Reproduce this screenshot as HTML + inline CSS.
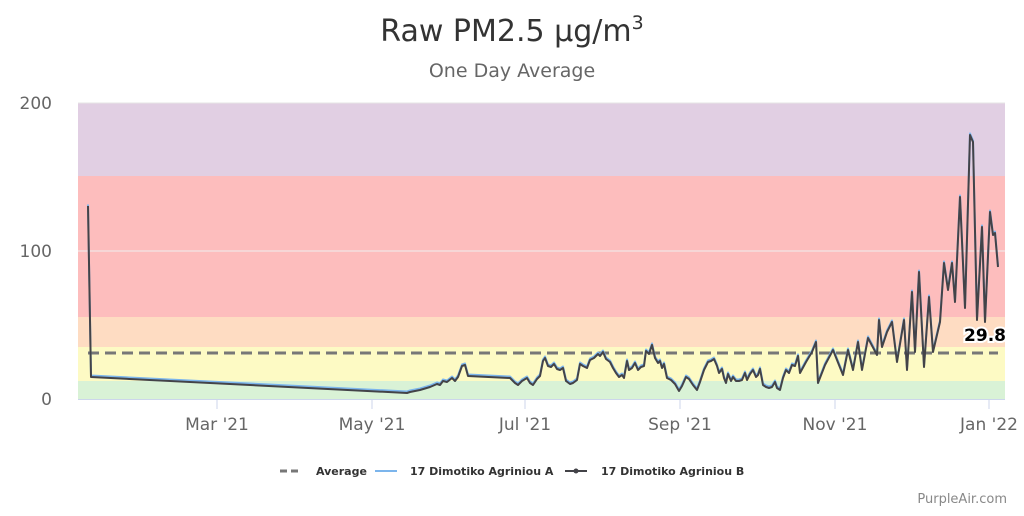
<!DOCTYPE html><html><head><meta charset="utf-8"><style>
body{margin:0;background:#fff;font-family:"DejaVu Sans","Liberation Sans",sans-serif}
</style></head><body>
<svg width="1024" height="512" xmlns="http://www.w3.org/2000/svg" font-family="DejaVu Sans, Liberation Sans, sans-serif">
<rect width="1024" height="512" fill="#fff"/>
<text x="512" y="41" text-anchor="middle" font-size="30" fill="#333">Raw PM2.5 µg/m<tspan dy="-12" font-size="19">3</tspan></text>
<text x="512" y="77" text-anchor="middle" font-size="19" fill="#666">One Day Average</text>
<rect x="78" y="103" width="927" height="73" fill="#e1cfe3"/>
<rect x="78" y="176" width="927" height="141" fill="#fdbdbd"/>
<rect x="78" y="317" width="927" height="30" fill="#fedcc2"/>
<rect x="78" y="347" width="927" height="34" fill="#fdfac4"/>
<rect x="78" y="381" width="927" height="18" fill="#d9f2d6"/>
<line x1="78" y1="103" x2="1005" y2="103" stroke="#e6e6e6"/>
<line x1="78" y1="251" x2="1005" y2="251" stroke="#eee"/>
<line x1="78" y1="399.5" x2="1005" y2="399.5" stroke="#ccd6eb"/>
<g font-size="17" fill="#666" text-anchor="end">
<text x="52" y="109">200</text><text x="52" y="257">100</text><text x="52" y="405">0</text></g>
<g stroke="#ccd6eb"><line x1="217" y1="399" x2="217" y2="409"/><line x1="372" y1="399" x2="372" y2="409"/><line x1="525" y1="399" x2="525" y2="409"/><line x1="680" y1="399" x2="680" y2="409"/><line x1="835" y1="399" x2="835" y2="409"/><line x1="989" y1="399" x2="989" y2="409"/></g>
<g font-size="17" fill="#666" text-anchor="middle">
<text x="217" y="430">Mar '21</text><text x="372" y="430">May '21</text><text x="525" y="430">Jul '21</text><text x="680" y="430">Sep '21</text><text x="835" y="430">Nov '21</text><text x="989" y="430">Jan '22</text></g>
<line x1="88" y1="353" x2="998" y2="353" stroke="#777" stroke-width="3" stroke-dasharray="11,6"/>
<g id="d"><polyline fill="none" stroke-width="2" stroke-linejoin="round" points="88,206 91,377 407,393 410,392 420,390 430,387 437,384 440,385 443,381 447,382 452,378 455,381 458,377 462,366 465,365 468,376 510,378 515,383 518,385 522,381 527,378 530,383 533,385 537,379 540,376 543,361 545,358 548,366 551,367 554,364 557,369 560,370 563,368 566,381 570,384 573,383 577,380 580,364 583,366 587,368 590,360 594,358 598,354 600,356 603,352 606,359 610,362 613,368 616,373 619,377 622,375 624,378 627,361 629,370 632,368 635,363 638,370 641,367 644,366 646,351 649,354 652,345 655,358 658,363 660,361 662,368 664,364 667,378 671,380 675,384 679,391 682,386 686,377 689,379 693,385 697,390 700,382 704,370 708,362 711,361 714,359 717,366 719,373 722,369 724,378 726,383 728,374 731,381 733,377 736,381 739,381 742,380 745,373 747,380 750,374 753,370 756,377 758,375 760,369 763,385 766,387 769,388 772,387 775,382 777,388 780,390 783,378 786,370 789,373 792,365 795,366 798,356 800,373 806,362 812,352 816,342 818,383 825,365 833,350 843,375 848,350 853,370 858,342 862,370 868,338 877,355 879,320 882,347 887,332 892,322 897,362 904,320 907,370 912,292 915,352 919,272 924,367 929,297 933,352 940,322 944,263 948,290 952,263 955,302 960,197 965,308 970,135 973,142 977,320 982,227 985,322 990,212 993,235 995,233 998,267"/></g>
<use href="#d" stroke="#7cb5ec" transform="translate(0,-1.5)"/>
<use href="#d" stroke="#434348"/>
<text x="1006" y="341" text-anchor="end" font-size="17" font-weight="bold" fill="#000" stroke="#fff" stroke-width="4" paint-order="stroke">29.8</text>
<g font-size="11" fill="#333" font-weight="bold">
<line x1="280" y1="471" x2="302" y2="471" stroke="#777" stroke-width="3" stroke-dasharray="7,4"/>
<text x="316" y="475">Average</text>
<line x1="375" y1="471" x2="397" y2="471" stroke="#7cb5ec" stroke-width="2"/>
<text x="410" y="475">17 Dimotiko Agriniou A</text>
<line x1="565" y1="471" x2="587" y2="471" stroke="#434348" stroke-width="2"/>
<circle cx="576" cy="471" r="2.5" fill="#434348"/>
<text x="601" y="475">17 Dimotiko Agriniou B</text></g>
<text x="1007" y="503" text-anchor="end" font-size="13" fill="#888">PurpleAir.com</text>
</svg>
</body></html>
